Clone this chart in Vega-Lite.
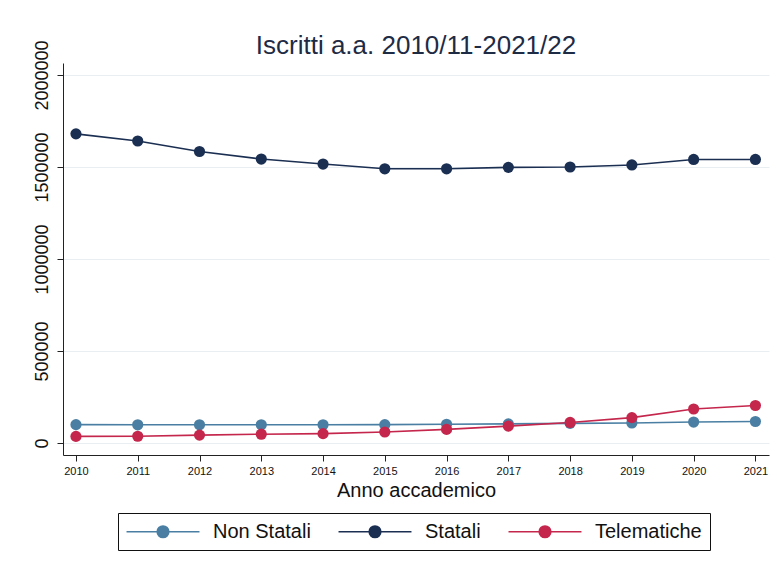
{
  "$schema": "https://vega.github.io/schema/vega-lite/v6.json",
  "autosize": {"type": "none"},
  "padding": {"left": 63, "top": 63, "right": 8, "bottom": 113},
  "width": 706,
  "height": 392,
  "background": "white",
  "title": {"text": "Iscritti a.a. 2010/11-2021/22", "font": "Liberation Sans", "fontSize": 26, "fontWeight": "normal", "color": "#1e2b45", "offset": 14, "dy": 33, "anchor": "middle"},
  "data": {"values": [
    {"anno": 2010, "serie": "Non Statali", "iscritti": 100000},
    {"anno": 2011, "serie": "Non Statali", "iscritti": 99000},
    {"anno": 2012, "serie": "Non Statali", "iscritti": 99000},
    {"anno": 2013, "serie": "Non Statali", "iscritti": 99000},
    {"anno": 2014, "serie": "Non Statali", "iscritti": 99000},
    {"anno": 2015, "serie": "Non Statali", "iscritti": 100000},
    {"anno": 2016, "serie": "Non Statali", "iscritti": 102000},
    {"anno": 2017, "serie": "Non Statali", "iscritti": 104000},
    {"anno": 2018, "serie": "Non Statali", "iscritti": 107000},
    {"anno": 2019, "serie": "Non Statali", "iscritti": 109000},
    {"anno": 2020, "serie": "Non Statali", "iscritti": 114000},
    {"anno": 2021, "serie": "Non Statali", "iscritti": 117000},
    {"anno": 2010, "serie": "Statali", "iscritti": 1680000},
    {"anno": 2011, "serie": "Statali", "iscritti": 1641000},
    {"anno": 2012, "serie": "Statali", "iscritti": 1584000},
    {"anno": 2013, "serie": "Statali", "iscritti": 1543000},
    {"anno": 2014, "serie": "Statali", "iscritti": 1516000},
    {"anno": 2015, "serie": "Statali", "iscritti": 1490000},
    {"anno": 2016, "serie": "Statali", "iscritti": 1490000},
    {"anno": 2017, "serie": "Statali", "iscritti": 1498000},
    {"anno": 2018, "serie": "Statali", "iscritti": 1500000},
    {"anno": 2019, "serie": "Statali", "iscritti": 1511000},
    {"anno": 2020, "serie": "Statali", "iscritti": 1541000},
    {"anno": 2021, "serie": "Statali", "iscritti": 1541000},
    {"anno": 2010, "serie": "Telematiche", "iscritti": 36000},
    {"anno": 2011, "serie": "Telematiche", "iscritti": 37000},
    {"anno": 2012, "serie": "Telematiche", "iscritti": 43000},
    {"anno": 2013, "serie": "Telematiche", "iscritti": 48000},
    {"anno": 2014, "serie": "Telematiche", "iscritti": 51000},
    {"anno": 2015, "serie": "Telematiche", "iscritti": 60000},
    {"anno": 2016, "serie": "Telematiche", "iscritti": 74000},
    {"anno": 2017, "serie": "Telematiche", "iscritti": 92000},
    {"anno": 2018, "serie": "Telematiche", "iscritti": 112000},
    {"anno": 2019, "serie": "Telematiche", "iscritti": 138000},
    {"anno": 2020, "serie": "Telematiche", "iscritti": 185000},
    {"anno": 2021, "serie": "Telematiche", "iscritti": 204000}
  ]},
  "mark": {"type": "line", "strokeWidth": 1.6, "point": {"filled": true, "size": 125, "opacity": 1}},
  "encoding": {
    "x": {
      "field": "anno", "type": "quantitative",
      "scale": {"domain": [2009.79, 2021.22], "nice": false, "zero": false},
      "axis": {
        "values": [2010, 2011, 2012, 2013, 2014, 2015, 2016, 2017, 2018, 2019, 2020, 2021],
        "format": "d", "grid": false, "title": "Anno accademico",
        "labelFont": "Liberation Sans", "labelFontSize": 11, "labelColor": "#111111",
        "titleFont": "Liberation Sans", "titleFontSize": 20, "titleFontWeight": "normal", "titleColor": "#111111",
        "titlePadding": 4, "tickSize": 6, "labelPadding": 4,
        "domainColor": "#222222", "tickColor": "#222222"
      }
    },
    "y": {
      "field": "iscritti", "type": "quantitative",
      "scale": {"domain": [-65000, 2065000], "nice": false, "zero": false},
      "axis": {
        "values": [0, 500000, 1000000, 1500000, 2000000], "format": "d", "title": null,
        "labelAngle": -90, "labelAlign": "center", "labelBaseline": "bottom",
        "labelFont": "Liberation Sans", "labelFontSize": 18, "labelColor": "#111111",
        "labelPadding": 6, "tickSize": 6,
        "grid": true, "gridColor": "#e8eef2", "gridWidth": 1,
        "domainColor": "#222222", "tickColor": "#222222"
      }
    },
    "color": {
      "field": "serie", "type": "nominal",
      "scale": {"domain": ["Non Statali", "Statali", "Telematiche"], "range": ["#4a7fa3", "#1b2f52", "#c4264c"]},
      "legend": {
        "title": null, "orient": "none", "direction": "horizontal",
        "legendX": 55, "legendY": 450,
        "strokeColor": "#111111", "padding": 8,
        "labelFont": "Liberation Sans", "labelFontSize": 20, "labelColor": "#111111",
        "symbolType": "M-3.84,0H-0.61M0.61,0H3.84M-0.61,0A0.61,0.61 0 1,0 0.61,0A0.61,0.61 0 1,0 -0.61,0Z",
        "symbolSize": 361, "symbolStrokeWidth": 1.6, "labelOffset": 66, "columnPadding": 24,
        "encode": {"symbols": {"update": {
          "fill": {"scale": "color", "field": "value"},
          "fillOpacity": {"value": 1},
          "x": {"value": 37}
        }}}
      }
    }
  },
  "config": {"view": {"stroke": null}}
}
